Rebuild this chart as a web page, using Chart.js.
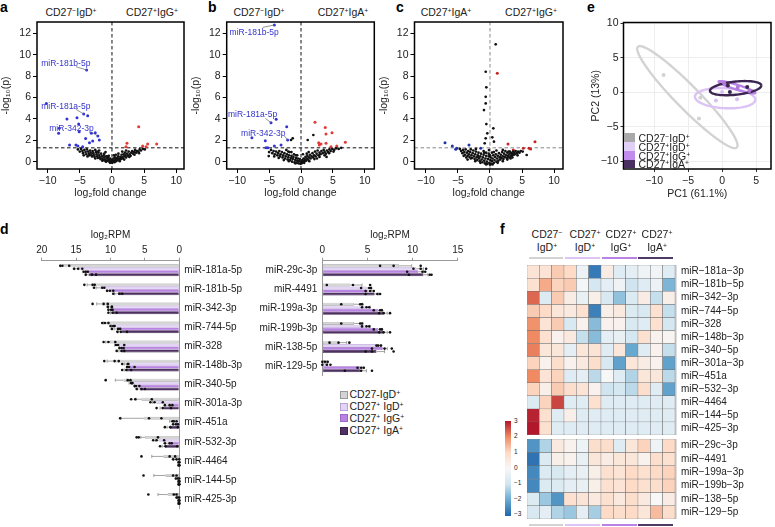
<!DOCTYPE html>
<html lang="en">
<head>
<meta charset="UTF-8">
<title>miRNA profiles of B cell subsets</title>
<script src="https://cdn.jsdelivr.net/npm/chart.js"></script>
<style>
  body { margin: 0; background: #fff; }
  #fig { position: relative; width: 775px; height: 527px; overflow: hidden;
         font-family: "Liberation Sans", Arial, Helvetica, sans-serif; color: #222; }
  #fig canvas { position: absolute; }
  .t { position: absolute; white-space: nowrap; line-height: 1; }
  .c { transform: translateX(-50%); }
  .p { font-weight: bold; font-size: 14px; color: #000; }
  .h { font-size: 10.5px; }
  .sw { position: absolute; }
  sup { font-size: 65%; vertical-align: 0.45em; line-height: 0; }
</style>
</head>
<body>
<div id="fig">
  <!-- panel letters -->
  <div class="t p" style="left:0;top:0">a</div>
  <div class="t p" style="left:208px;top:0">b</div>
  <div class="t p" style="left:396px;top:0">c</div>
  <div class="t p" style="left:587px;top:0">e</div>
  <div class="t p" style="left:0;top:221.5px">d</div>
  <div class="t p" style="left:500px;top:221.5px">f</div>

  <!-- volcano headers -->
  <div class="t h c" style="left:71px;top:6.8px">CD27<sup>−</sup>IgD<sup>+</sup></div>
  <div class="t h c" style="left:152px;top:6.8px">CD27<sup>+</sup>IgG<sup>+</sup></div>
  <div class="t h c" style="left:259px;top:6.8px">CD27<sup>−</sup>IgD<sup>+</sup></div>
  <div class="t h c" style="left:343px;top:6.8px">CD27<sup>+</sup>IgA<sup>+</sup></div>
  <div class="t h c" style="left:446px;top:6.8px">CD27<sup>+</sup>IgA<sup>+</sup></div>
  <div class="t h c" style="left:531px;top:6.8px">CD27<sup>+</sup>IgG<sup>+</sup></div>

  <canvas id="cA" width="190" height="200" style="left:0;top:0"></canvas>
  <canvas id="cB" width="190" height="200" style="left:190px;top:0"></canvas>
  <canvas id="cC" width="190" height="200" style="left:378px;top:0"></canvas>
  <canvas id="cE" width="197" height="200" style="left:578px;top:0"></canvas>

  <!-- PCA legend -->
  <div class="sw" style="left:623.7px;top:133.3px;width:11.6px;height:8.8px;background:#a9a9a9"></div>
  <div class="sw" style="left:623.7px;top:142.1px;width:11.6px;height:8.8px;background:#e1d0f5"></div>
  <div class="sw" style="left:623.7px;top:150.9px;width:11.6px;height:8.8px;background:#c28cec"></div>
  <div class="sw" style="left:623.7px;top:159.7px;width:11.6px;height:8.8px;background:#4b2e60"></div>
  <div class="t h" style="left:638.5px;top:133.2px">CD27<sup>−</sup>IgD<sup>+</sup></div>
  <div class="t h" style="left:638.5px;top:142.2px">CD27<sup>+</sup>IgD<sup>+</sup></div>
  <div class="t h" style="left:638.5px;top:150.9px">CD27<sup>+</sup>IgG<sup>+</sup></div>
  <div class="t h" style="left:638.5px;top:159.2px">CD27<sup>+</sup>IgA<sup>+</sup></div>

  <canvas id="cD1" width="250" height="300" style="left:0;top:215px"></canvas>
  <canvas id="cD2" width="225" height="170" style="left:250px;top:215px"></canvas>

  <!-- d legend -->
  <div class="sw" style="left:340px;top:390.8px;width:6px;height:6px;background:#d4d4d4;border:0.6px solid #999"></div>
  <div class="sw" style="left:340px;top:402.5px;width:6px;height:6px;background:#e3d3f5;border:0.6px solid #b9a3d6"></div>
  <div class="sw" style="left:340px;top:414.2px;width:6px;height:6px;background:#b883e3;border:0.6px solid #9a68c5"></div>
  <div class="sw" style="left:340px;top:426.5px;width:6px;height:6px;background:#4e3063;border:0.6px solid #3a2149"></div>
  <div class="t h" style="left:349.5px;top:389.2px">CD27-IgD<sup>+</sup></div>
  <div class="t h" style="left:349.5px;top:401px">CD27<sup>+</sup> IgD<sup>+</sup></div>
  <div class="t h" style="left:349.5px;top:412.7px">CD27<sup>+</sup> IgG<sup>+</sup></div>
  <div class="t h" style="left:349.5px;top:425px">CD27<sup>+</sup> IgA<sup>+</sup></div>

  <!-- heatmap headers -->
  <div class="t h c" style="left:547px;top:229.4px">CD27<sup>−</sup></div>
  <div class="t h c" style="left:547px;top:241.6px">IgD<sup>+</sup></div>
  <div class="t h c" style="left:585px;top:229.4px">CD27<sup>+</sup></div>
  <div class="t h c" style="left:585px;top:241.6px">IgD<sup>+</sup></div>
  <div class="t h c" style="left:621px;top:229.4px">CD27<sup>+</sup></div>
  <div class="t h c" style="left:621px;top:241.6px">IgG<sup>+</sup></div>
  <div class="t h c" style="left:657px;top:229.4px">CD27<sup>+</sup></div>
  <div class="t h c" style="left:657px;top:241.6px">IgA<sup>+</sup></div>
  <div class="sw" style="left:528.5px;top:256.5px;width:34px;height:2.6px;background:#d3d3d3"></div>
  <div class="sw" style="left:565px;top:256.5px;width:35px;height:2.6px;background:#dcc5f5"></div>
  <div class="sw" style="left:601.7px;top:256.5px;width:35px;height:2.6px;background:#b982e6"></div>
  <div class="sw" style="left:638.3px;top:256.5px;width:35px;height:2.6px;background:#4f3a63"></div>
  <div class="sw" style="left:528.5px;top:523.8px;width:34px;height:2.6px;background:#d3d3d3"></div>
  <div class="sw" style="left:565px;top:523.8px;width:35px;height:2.6px;background:#dcc5f5"></div>
  <div class="sw" style="left:601.7px;top:523.8px;width:35px;height:2.6px;background:#b982e6"></div>
  <div class="sw" style="left:638.3px;top:523.8px;width:35px;height:2.6px;background:#4f3a63"></div>

  <canvas id="cF1" width="248" height="170" style="left:527px;top:265px"></canvas>
  <canvas id="cF2" width="248" height="80" style="left:527px;top:439px"></canvas>

  <!-- colour key -->
  <div class="sw" style="left:505px;top:421px;width:6px;height:95px;background:linear-gradient(to bottom,#b2182b,#ef8a62,#fddbc7,#f7f7f7,#d1e5f0,#67a9cf,#2166ac)"></div>
  <div id="key"></div>
</div>

<script>
// ---------- panel a-c : volcano plots [log2 fold change, -log10 p] ----------
const volA_ns = [[-5.3,1.15],[-5.0,0.95],[-4.8,1.2],[-4.6,1.0],[-4.5,0.8],[-4.3,1.1],[-4.1,0.9],[-4.0,0.7],[-3.9,1.15],[-3.7,0.95],[-3.6,0.75],[-3.5,0.6],[-3.4,1.05],[-3.3,0.85],[-3.2,0.65],[-3.1,0.5],[-3.0,1.0],[-2.9,0.8],[-2.8,0.6],[-2.7,0.45],[-2.6,1.1],[-2.5,0.9],[-2.4,0.7],[-2.3,0.5],[-2.2,0.35],[-2.1,0.85],[-2.0,0.6],[-1.9,0.4],[-1.8,0.25],[-1.7,0.75],[-1.6,0.5],[-1.5,0.3],[-1.4,0.15],[-1.3,0.6],[-1.2,0.4],[-1.1,0.2],[-1.0,0.05],[-0.9,0.5],[-0.8,0.3],[-0.7,0.1],[-0.6,0.4],[-0.5,0.2],[-0.4,0.0],[-0.3,0.3],[-0.2,0.1],[-0.1,-0.05],[0.0,0.2],[0.05,-0.1],[0.15,0.05],[0.25,0.3],[0.35,0.1],[0.45,0.4],[0.55,0.2],[0.65,0.05],[0.75,0.35],[0.85,0.15],[0.95,0.5],[1.05,0.3],[1.15,0.15],[1.3,0.45],[1.4,0.25],[1.5,0.65],[1.6,0.4],[1.7,0.3],[1.8,0.7],[1.9,0.5],[2.0,0.85],[2.1,0.6],[2.2,0.4],[2.35,0.75],[2.5,0.55],[2.6,0.95],[2.75,0.7],[2.9,0.55],[3.0,0.85],[3.15,1.0],[3.3,0.75],[3.45,0.9],[3.6,1.1],[3.75,0.85],[3.9,1.0],[4.1,0.95],[4.3,1.15],[4.5,1.05],[4.8,1.2],[5.1,1.15],[-1.0,0.9],[-0.5,0.55],[0.3,0.6],[1.0,0.75],[-2.0,1.05],[2.2,1.05],
  [-3.8,0.5],[-2.6,0.3],[-1.5,0.1],[-0.9,0.0],[-0.3,-0.1],[0.4,-0.05],[1.2,0.05],[1.9,0.2],[2.7,0.45],[3.5,0.65],[4.2,0.8],[-4.4,0.6],[-1.2,0.75],[0.6,0.65],[1.6,0.95],[-2.3,0.95],[-0.7,0.5]];
const volA_up = [[4.15,3.27],[2.33,1.72],[2.18,1.4],[4.77,1.47],[5.55,1.65],[6.95,1.65],[5.3,1.4]];
const volA_dn = [[-3.94,8.57],[-10.2,5.45],[-4.4,4.46],[-3.78,4.3],[-7.0,3.99],[-5.44,4.11],[-5.18,3.52],[-8.3,2.65],[-8.2,3.12],[-5.1,2.8],[-4.1,2.18],[-3.2,2.65],[-2.6,2.71],[-2.2,2.4],[-1.97,2.03],[-3.0,1.93],[-6.6,1.56],[-5.6,1.56],[-4.56,1.4],[-5.3,1.47],[-3.5,1.78]];

const volB_ns = [[-5.0,0.9],[-4.7,1.1],[-4.5,0.8],[-4.3,1.0],[-4.1,0.7],[-3.9,0.95],[-3.7,0.6],[-3.6,0.8],[-3.4,1.0],[-3.3,0.5],[-3.2,0.7],[-3.0,0.9],[-2.9,0.4],[-2.8,0.6],[-2.6,0.8],[-2.5,0.3],[-2.4,0.5],[-2.3,1.1],[-2.2,0.7],[-2.1,0.2],[-2.0,0.4],[-1.9,0.6],[-1.8,0.9],[-1.7,0.15],[-1.6,0.35],[-1.5,0.55],[-1.4,0.0],[-1.3,0.25],[-1.2,0.45],[-1.1,0.7],[-1.0,-0.05],[-0.9,0.15],[-0.8,0.35],[-0.7,-0.1],[-0.6,0.1],[-0.5,0.3],[-0.4,-0.15],[-0.3,0.05],[-0.2,0.25],[-0.1,-0.2],[0.0,0.0],[0.1,-0.15],[0.2,0.15],[0.3,-0.05],[0.4,0.3],[0.5,0.05],[0.6,0.2],[0.7,0.45],[0.8,0.1],[0.9,0.3],[1.0,0.55],[1.1,0.2],[1.25,0.4],[1.4,0.65],[1.5,0.3],[1.65,0.5],[1.8,0.8],[1.9,0.4],[2.05,0.6],[2.2,0.95],[2.3,0.5],[2.45,0.75],[2.6,1.05],[2.75,0.6],[2.9,0.85],[3.05,0.7],[3.2,1.0],[3.4,0.8],[3.55,1.1],[3.7,0.9],[3.9,0.75],[4.05,1.05],[4.25,0.9],[4.45,1.15],[4.65,1.0],[4.9,1.2],[5.2,1.1],[5.5,1.25],[5.9,1.2],[6.3,1.3],[-0.6,0.6],[0.3,0.7],[1.2,0.9],[-1.5,0.9],[-1.57,2.03],[-1.3,2.19],[1.05,2.03],[1.93,2.5],[-5.06,0.53],
  [-3.5,0.35],[-2.7,0.15],[-1.9,0.05],[-0.9,-0.15],[0.5,-0.1],[1.3,0.05],[2.1,0.25],[2.9,0.45],[3.7,0.6],[4.4,0.8],[5.1,0.95],[-4.2,0.5],[-2.0,0.95],[-0.8,0.6],[0.9,0.75],[2.5,0.3],[4.0,0.45]];
const volB_up = [[2.19,3.68],[3.8,3.21],[4.86,2.71],[3.92,2.59],[2.87,1.56],[2.77,1.78],[3.13,1.65],[3.92,1.72],[4.7,1.4],[5.6,1.47],[6.95,1.81]];
const volB_dn = [[-4.18,12.78],[-3.9,3.96],[-4.7,3.65],[-2.24,3.27],[-7.7,2.24],[-5.6,1.96],[-4.18,1.47],[-5.5,1.31],[-5.2,1.31],[-3.13,1.56],[-2.1,2.03]];

const volC_ns = [[-4.7,1.2],[-4.5,1.0],[-4.3,0.8],[-4.2,1.1],[-4.0,0.9],[-3.9,0.65],[-3.8,1.15],[-3.6,0.85],[-3.5,0.55],[-3.4,1.0],[-3.3,0.7],[-3.2,0.45],[-3.1,0.9],[-3.0,1.15],[-2.9,0.6],[-2.8,0.35],[-2.7,0.8],[-2.6,1.05],[-2.5,0.5],[-2.4,0.25],[-2.3,0.7],[-2.2,0.95],[-2.1,0.4],[-2.0,0.15],[-1.9,0.6],[-1.8,0.85],[-1.7,0.3],[-1.6,0.05],[-1.5,0.5],[-1.4,0.75],[-1.3,0.2],[-1.2,-0.05],[-1.1,0.4],[-1.0,0.65],[-0.9,0.1],[-0.8,-0.15],[-0.7,0.3],[-0.6,0.55],[-0.5,0.0],[-0.4,-0.2],[-0.3,0.25],[-0.2,0.5],[-0.1,-0.1],[0.0,-0.28],[0.05,0.15],[0.1,0.4],[0.2,-0.2],[0.3,0.05],[0.4,0.3],[0.5,0.6],[0.6,-0.1],[0.7,0.15],[0.8,0.45],[0.9,0.7],[1.0,0.0],[1.1,0.3],[1.2,0.55],[1.3,0.1],[1.4,0.8],[1.5,0.4],[1.6,0.2],[1.7,0.65],[1.8,0.35],[1.9,0.9],[2.0,0.5],[2.1,0.25],[2.2,0.75],[2.3,0.45],[2.4,1.0],[2.5,0.6],[2.6,0.35],[2.7,0.85],[2.8,0.55],[2.9,0.4],[3.0,0.7],[3.1,0.95],[3.2,0.5],[3.3,0.8],[3.4,0.6],[3.5,0.75],[3.6,0.95],[3.7,0.65],[3.8,0.85],[3.9,0.7],[4.0,1.0],[4.2,0.8],[4.4,0.95],[4.6,0.85],[4.8,1.0],[5.1,0.95],[-0.6,0.85],[0.3,0.85],[-1.0,1.0],[1.0,1.05],[-0.2,0.75],[0.6,0.9],[-2.2,1.2],[-3.7,0.4],[2.0,1.1],[3.2,0.3],
  [0.89,10.97],[-0.67,8.41],[-0.57,6.95],[-0.67,6.07],[-0.67,5.45],[-0.94,4.83],[-0.57,3.52],[0.52,3.12],[-0.42,2.65],[-0.67,2.19],[0.36,2.28],[-0.83,1.72],[0.62,1.87],[-0.16,1.09],[5.72,0.63],
  [-4.1,0.55],[-3.0,0.3],[-2.3,0.05],[-1.5,-0.1],[-0.6,-0.25],[0.4,-0.25],[1.2,-0.1],[2.0,0.05],[2.7,0.2],[3.5,0.4],[4.3,0.6],[-3.5,0.2],[-1.8,0.45],[0.0,0.6],[1.6,0.45],[2.9,0.95],[-0.9,0.85]];
const volC_up = [[1.14,8.26],[2.81,1.65],[7.02,1.87],[3.64,1.09],[5.2,1.25],[6.08,1.25],[6.34,1.19]];
const volC_dn = [[-7.02,1.78],[-5.88,1.47],[-5.35,1.16],[-5.2,1.25],[-3.28,1.56],[-1.45,1.25]];

const volXTicks = [-10, -5, 0, 5, 10];
const volYTicks = [0, 2, 4, 6, 8, 10, 12];

// ---------- panel e : PCA ----------
const pcaIgDneg = [[-8.6,2.5],[-3.4,-3.8],[-3.2,-0.8]];
const pcaIgDpos = [[-0.9,-1.2],[2.2,-1.0],[0.0,0.05]];
const pcaIgG    = [[0.3,1.3],[2.3,0.7],[4.0,0.2]];
const pcaIgA    = [[0.85,1.0],[1.15,0.05],[3.7,0.75]];
// 95% ellipses: centre, semi-axes, angle (deg)
const ellCx = [-5.1, 0.45, 2.2, 2.0];
const ellCy = [-0.7, -0.85, 0.73, 0.6];
const ellA  = [10.3, 4.45, 2.83, 3.8];
const ellB  = [1.7, 1.45, 0.35, 0.95];
const ellAng = [-45, -3, -17, 6];
const pcaXTicks = [-10, -5, 0, 5];
const pcaYTicks = [-10, -5, 0, 5, 10];

// ---------- panel d : log2 RPM, mean, sd, replicates ----------
const mirDown = ['miR-181a-5p','miR-181b-5p','miR-342-3p','miR-744-5p','miR-328','miR-148b-3p','miR-340-5p','miR-301a-3p','miR-451a','miR-532-3p','miR-4464','miR-144-5p','miR-425-3p'];
const mirUp = ['miR-29c-3p','miR-4491','miR-199a-3p','miR-199b-3p','miR-138-5p','miR-129-5p'];

const downMeanNeg = [17.0, 12.8, 11.3, 10.6, 10.1, 9.6, 8.1, 5.5, 5.2, 5.0, 2.3, 2.0, 1.7];
const downSdNeg   = [0.3, 0.6, 0.7, 0.4, 0.6, 0.9, 1.2, 0.8, 3.3, 0.6, 1.7, 1.7, 1.4];
const downRepNeg  = [[17.3,17.0,16.0],[13.8,12.6,12.3],[12.6,11.0,10.4],[11.2,10.8,10.3],[11.0,10.3,9.3],[10.9,9.4,8.8],[10.7,7.5,7.1],[7.0,6.4,4.0],[8.6,4.4,2.6],[6.2,5.9,3.1],[5.5,1.4,0.6],[5.2,0.9,0.4],[4.5,0.8,0.4]];
const downMeanIgD = [14.8, 11.5, 10.0, 9.6, 8.9, 7.7, 6.9, 3.3, 0.9, 3.0, 0.5, 0.3, 0.2];
const downSdIgD   = [0.4, 0.6, 0.3, 0.3, 0.5, 0.3, 0.4, 0.6, 0.5, 0.5, 0.3, 0.2, 0.2];
const downRepIgD  = [[15.3,14.7,14.1],[12.4,11.2,10.9],[10.4,9.8,9.8],[10.0,9.6,9.4],[9.2,8.9,8.0],[8.3,7.5,7.4],[7.0,6.9,6.8],[4.2,3.6,2.4],[1.0,0.8,0.4],[3.8,3.3,2.2],[0.9,0.4,0.0],[0.5,0.2,0.0],[0.4,0.2,0.0]];
const downMeanIgG = [13.7, 10.1, 10.0, 9.1, 8.4, 7.2, 6.2, 1.6, 0.6, 1.6, 0.1, 0.1, 0.1];
const downSdIgG   = [0.3, 0.4, 0.3, 0.4, 0.3, 0.4, 0.3, 0.5, 0.3, 0.4, 0.1, 0.1, 0.1];
const downRepIgG  = [[13.9,13.6,13.3],[10.5,10.1,9.6],[10.3,9.9,9.7],[9.8,8.9,8.6],[8.7,8.4,8.1],[7.6,7.3,6.5],[6.5,6.3,5.8],[2.1,1.4,1.0],[0.9,0.5,0.2],[2.1,1.4,1.1],[0.1,0.0,0.0],[0.1,0.0,0.0],[0.1,0.0,0.0]];
const downMeanIgA = [13.2, 8.9, 9.7, 8.4, 8.4, 7.7, 5.7, 2.3, 1.4, 2.1, 0.1, 0.1, 0.1];
const downSdIgA   = [0.4, 0.5, 0.3, 0.5, 0.4, 0.3, 0.4, 0.5, 0.4, 0.4, 0.1, 0.1, 0.1];
const downRepIgA  = [[13.6,12.7,12.1],[9.6,8.7,8.3],[10.3,9.7,9.1],[9.0,8.5,7.6],[9.1,8.4,8.0],[8.3,7.7,7.0],[6.2,5.5,5.0],[3.3,2.4,1.2],[2.1,1.3,0.2],[2.8,2.0,0.3],[0.1,0.0,0.0],[0.1,0.0,0.0],[0.1,0.0,0.0]];

const upMeanNeg = [8.5, 3.1, 3.5, 3.5, 1.8, 0.3];
const upSdNeg   = [1.4, 1.3, 1.0, 1.0, 0.9, 0.2];
const upRepNeg  = [[6.4,7.9,10.9],[0.5,3.4,5.3],[2.1,4.2,4.4],[2.1,4.2,4.4],[0.8,1.8,3.0],[0.0,0.3,0.6]];
const upMeanIgD = [10.4, 4.9, 4.8, 4.8, 6.2, 0.4];
const upSdIgD   = [0.8, 0.5, 0.5, 0.5, 0.3, 0.2];
const upRepIgD  = [[10.1,10.9,11.5],[4.3,5.2,5.4],[4.4,4.9,5.2],[4.4,4.9,5.2],[6.0,6.2,6.5],[0.0,0.5,0.9]];
const upMeanIgG = [10.6, 5.1, 6.2, 6.2, 6.7, 4.2];
const upSdIgG   = [0.6, 0.4, 0.4, 0.4, 0.5, 0.3];
const upRepIgG  = [[9.4,11.1,11.4],[4.8,5.3,5.7],[5.7,6.4,6.6],[5.7,6.4,6.6],[5.5,6.9,7.7],[3.9,4.3,4.6]];
const upMeanIgA = [11.2, 5.8, 6.8, 6.8, 6.0, 4.2];
const upSdIgA   = [0.5, 0.4, 0.4, 0.4, 0.9, 0.7];
const upRepIgA  = [[9.6,11.9,12.1],[4.8,6.1,6.4],[6.3,6.8,7.5],[6.3,6.8,7.5],[4.8,5.5,7.9],[2.5,4.3,5.5]];
const rpmTicksL = [0, 5, 10, 15, 20];
const rpmTicksR = [0, 5, 10, 15];

// ---------- panel f : row z-scores, 12 samples (3 per subset) ----------
const hmCols = ['s1','s2','s3','s4','s5','s6','s7','s8','s9','s10','s11','s12'];
const hmRowsTop = ['miR\u2212181a\u22123p','miR\u2212181b\u22125p','miR\u2212342\u22123p','miR\u2212744\u22125p','miR\u2212328','miR\u2212148b\u22123p','miR\u2212340\u22125p','miR\u2212301a\u22123p','miR\u2212451a','miR\u2212532\u22123p','miR\u22124464','miR\u2212144\u22125p','miR\u2212425\u22123p'];
const hmTop = [
  [0.7, 0.7, 1.2, 1.0, -0.3, -2.7, 0.4, -0.6, -0.5, -0.2, -0.15, -0.6],
  [0.8, 1.6, 1.1, 1.2, -0.1, -0.9, -0.5, -0.2, -1.0, -0.6, -0.3, -1.8],
  [2.3, -0.7, 1.2, 0.4, -0.4, 0.3, -0.8, -1.6, -0.7, 0.4, -1.1, 0.3],
  [1.2, 1.0, 0.6, 0.5, 0.8, -2.6, 0.3, 0.5, -0.7, -0.8, 0.8, -1.1],
  [1.9, 0.7, 1.2, -0.8, 0.2, -1.7, 0.2, 0.2, -0.8, -0.6, 0.8, -0.9],
  [2.0, 0.8, 0.2, 0.5, -1.1, -1.7, -0.5, -0.4, -0.9, 0.8, 0.2, 0.1],
  [2.1, 0.6, 0.6, -0.5, 0.6, 0.7, -0.6, 0.6, -2.0, -0.6, 0.2, -1.1],
  [1.1, 0.2, 0.9, 0.2, 0.5, 0.9, -0.8, -2.1, 0.6, 0.4, 0.2, -2.1],
  [2.0, 0.7, 1.1, -0.6, -0.5, -1.2, 0.0, -0.6, -1.3, 0.6, 0.6, -1.2],
  [1.1, 0.3, 1.2, 0.9, 0.7, 0.2, -1.0, -0.9, -1.2, 0.9, -0.6, -2.1],
  [-0.7, 1.1, 2.6, -0.6, -0.6, 0.8, -0.6, -0.6, -0.6, -0.6, -0.6, -0.6],
  [2.9, 0.8, -0.6, 0.3, -0.6, -0.6, -0.6, -0.6, -0.6, -0.6, -0.6, -0.6],
  [3.0, 0.8, -0.6, -0.6, -0.6, -0.6, -0.6, -0.6, -0.6, -0.6, -0.6, -0.6]
];
const hmRowsBottom = ['miR\u221229c\u22123p','miR\u22124491','miR\u2212199a\u22123p','miR\u2212199b\u22123p','miR\u2212138\u22125p','miR\u2212129\u22125p'];
const hmBottom = [
  [-2.3, -1.3, 0.5, 0.2, -0.3, 0.9, 0.9, -0.6, 0.6, 1.1, -0.2, 1.0],
  [-2.8, -0.7, 0.3, 0.2, -0.4, 0.6, 0.4, 0.6, 0.6, 0.2, 0.9, 0.8],
  [-2.5, -0.7, -0.8, -0.5, -0.4, 0.3, 0.8, 0.7, 1.0, 0.8, 1.0, 1.1],
  [-2.5, -0.7, -0.7, -0.5, -0.4, 0.3, 0.8, 0.7, 1.0, 0.8, 0.9, 1.1],
  [-0.7, -1.5, -2.3, 0.8, 0.7, 0.5, 0.8, 0.5, 0.9, 0.5, 0.0, 0.4],
  [-0.8, -0.5, -1.3, -1.5, -0.5, -1.4, 1.0, 0.9, 1.0, 0.6, 1.4, 0.9]
];
const keyTicks = [3, 2, 1, 0, -1, -2, -3];

// ---------- shared style ----------
const FONT = '"Liberation Sans", Arial, Helvetica, sans-serif';
Chart.defaults.font.family = FONT;
Chart.defaults.font.size = 10;
Chart.defaults.color = '#222';
Chart.defaults.animation = false;
Chart.defaults.plugins.legend.display = false;
Chart.defaults.plugins.tooltip.enabled = false;

const subsetFill = ['#d4d4d4', '#e3d3f5', '#b883e3', '#4e3063'];
const subsetLine = ['#9a9a9a', '#b9a3d6', '#9a68c5', '#3a2149'];
const minus = v => String(v).replace('-', '\u2212');
const pts = arr => arr.map(p => ({x: p[0], y: p[1]}));
const fixTicks = list => s => { s.ticks = list.map(v => ({value: v})); };
// fixed axis width, no extra top/bottom room for the labels
const fixWidth = w => s => { s.width = w; s.paddingTop = 0; s.paddingBottom = 0; };

// box around the plotting area
const frame = {
  id: 'frame',
  afterDraw(chart, args, o) {
    const {ctx, chartArea: a} = chart;
    ctx.save();
    ctx.strokeStyle = o.color; ctx.lineWidth = o.width;
    const g = o.outside ? o.width / 2 : 0;
    ctx.strokeRect(a.left - g, a.top - g, a.width + 2 * g, a.height + 2 * g);
    ctx.restore();
  }
};

// dashed reference lines (fold change 0, p = 0.05)
const guides = {
  id: 'guides',
  beforeDatasetsDraw(chart, args, o) {
    const {ctx, chartArea: a, scales: {x, y}} = chart;
    ctx.save();
    ctx.strokeStyle = o.color; ctx.lineWidth = 1; ctx.setLineDash([3.5, 2.5]);
    o.vx.forEach(v => { const p = x.getPixelForValue(v); ctx.beginPath(); ctx.moveTo(p, a.top); ctx.lineTo(p, a.bottom); ctx.stroke(); });
    o.hy.forEach(v => { const p = y.getPixelForValue(v); ctx.beginPath(); ctx.moveTo(a.left, p); ctx.lineTo(a.right, p); ctx.stroke(); });
    ctx.restore();
  }
};

// miRNA name tags with leader lines
const tags = {
  id: 'tags',
  afterDatasetsDraw(chart, args, o) {
    const {ctx, scales: {x, y}} = chart;
    ctx.save();
    ctx.font = '8.5px ' + FONT;
    ctx.textBaseline = 'middle';
    o.items.forEach(t => {
      ctx.strokeStyle = '#666'; ctx.lineWidth = 0.7;
      ctx.beginPath();
      ctx.moveTo(x.getPixelForValue(t.lx), y.getPixelForValue(t.ly));
      ctx.lineTo(x.getPixelForValue(t.px), y.getPixelForValue(t.py));
      ctx.stroke();
      ctx.fillStyle = '#3434cc';
      ctx.fillText(t.t, x.getPixelForValue(t.x), y.getPixelForValue(t.y));
    });
    ctx.restore();
  }
};

function volcano(id, ns, up, dn, c) {
  new Chart(document.getElementById(id), {
    type: 'scatter',
    data: { datasets: [
      { data: pts(ns), backgroundColor: '#111', pointRadius: 1.35 },
      { data: pts(up), backgroundColor: c.red, pointRadius: 1.5 },
      { data: pts(dn), backgroundColor: c.blue, pointRadius: 1.5 }
    ]},
    options: {
      responsive: false,
      layout: { padding: { top: 22, right: c.padR, left: 0, bottom: 0 } },
      elements: { point: { borderWidth: 0, hoverRadius: 0 } },
      scales: {
        x: { type: 'linear', min: c.xmin, max: c.xmax,
             afterBuildTicks: fixTicks(volXTicks), afterFit: s => { s.height = 31; },
             grid: { drawOnChartArea: false, tickLength: 4, tickColor: '#000' }, border: { display: false },
             ticks: { padding: 2, font: { size: 10.5 }, callback: minus },
             title: { display: true, text: 'log\u2082fold change', font: { size: 10.5 }, padding: { top: 0, bottom: 1 } } },
        y: { min: -0.68, max: 13.06,
             afterBuildTicks: fixTicks(volYTicks), afterFit: fixWidth(c.yw),
             grid: { drawOnChartArea: false, tickLength: 4, tickColor: '#000' }, border: { display: false },
             ticks: { padding: 2, font: { size: 10.5 } },
             title: { display: true, text: '-log\u2081\u2080(p)', font: { size: 10.5 }, padding: { top: 0, bottom: 0 } } }
      },
      plugins: {
        guides: { vx: [0], hy: [1.3], color: c.dash },
        tags: { items: c.tags },
        frame: { color: '#000', width: 1.5 }
      }
    },
    plugins: [guides, tags, frame]
  });
}

volcano('cA', volA_ns, volA_up, volA_dn, {
  xmin: -11.66, xmax: 11.2, yw: 37, padR: 6, red: '#e23a36', blue: '#3434d6', dash: '#111',
  tags: [
    { t: 'miR-181b-5p', x: -11.0, y: 9.2, lx: -5.6, ly: 8.88, px: -3.94, py: 8.57 },
    { t: 'miR-181a-5p', x: -11.0, y: 5.14, lx: -5.6, ly: 4.9, px: -4.4, py: 4.46 },
    { t: 'miR-342-3p', x: -9.75, y: 3.06, lx: -3.27, ly: 2.8, px: -2.2, py: 2.4 }
  ]
});
volcano('cB', volB_ns, volB_up, volB_dn, {
  xmin: -11.65, xmax: 11.49, yw: 36.7, padR: 5.7, red: '#e23a36', blue: '#3434d6', dash: '#111',
  tags: [
    { t: 'miR-181b-5p', x: -11.2, y: 12.1, lx: -6.0, ly: 12.56, px: -4.18, py: 12.78 },
    { t: 'miR-181a-5p', x: -11.45, y: 4.43, lx: -5.6, ly: 4.06, px: -4.7, py: 3.65 },
    { t: 'miR-342-3p', x: -9.4, y: 2.65, lx: -2.6, ly: 2.4, px: -2.1, py: 2.03 }
  ]
});
volcano('cC', volC_ns, volC_up, volC_dn, {
  xmin: -11.78, xmax: 11.39, yw: 36.5, padR: 5, red: '#c42525', blue: '#2233a8', dash: '#888',
  tags: []
});

// ---------- PCA ----------
const ellipses = {
  id: 'ellipses',
  beforeDatasetsDraw(chart, args, o) {
    const {ctx, scales: {x, y}} = chart;
    ctx.save();
    ellCx.forEach((cx, i) => {
      const r = ellAng[i] * Math.PI / 180, cs = Math.cos(r), sn = Math.sin(r);
      ctx.beginPath();
      for (let k = 0; k <= 90; k++) {
        const t = k / 90 * 2 * Math.PI;
        const u = ellA[i] * Math.cos(t), w = ellB[i] * Math.sin(t);
        const px = x.getPixelForValue(cx + u * cs - w * sn);
        const py = y.getPixelForValue(ellCy[i] + u * sn + w * cs);
        if (k) ctx.lineTo(px, py); else ctx.moveTo(px, py);
      }
      ctx.strokeStyle = o.colors[i]; ctx.lineWidth = 2.4;
      ctx.stroke();
    });
    ctx.restore();
  }
};

new Chart(document.getElementById('cE'), {
  type: 'scatter',
  data: { datasets: [
    { data: pts(pcaIgDneg), backgroundColor: '#d2d2d2' },
    { data: pts(pcaIgDpos), backgroundColor: '#d6c0f0' },
    { data: pts(pcaIgG), backgroundColor: '#b27ad8' },
    { data: pts(pcaIgA), backgroundColor: '#3a2449' }
  ]},
  options: {
    responsive: false,
    layout: { padding: { top: 22.5, right: 4, left: 0, bottom: 0 } },
    elements: { point: { radius: 2, borderWidth: 0, hoverRadius: 0 } },
    scales: {
      x: { min: -14.5, max: 7.2, afterBuildTicks: fixTicks(pcaXTicks), afterFit: s => { s.height = 31; },
           grid: { color: '#ededed', tickColor: '#333', tickLength: 3 }, border: { display: false },
           ticks: { padding: 3, font: { size: 10.5 }, callback: minus },
           title: { display: true, text: 'PC1 (61.1%)', font: { size: 10.5 }, padding: { top: 0, bottom: 0 } } },
      y: { min: -11.1, max: 10.1, afterBuildTicks: fixTicks(pcaYTicks), afterFit: fixWidth(45.5),
           grid: { color: '#ededed', tickColor: '#333', tickLength: 3 }, border: { display: false },
           ticks: { padding: 2, font: { size: 10.5 }, callback: minus },
           title: { display: true, text: 'PC2 (13%)', font: { size: 10.5 }, padding: { top: 11.7, bottom: 0 } } }
    },
    plugins: {
      ellipses: { colors: ['#d3d3d3', '#dcc3f5', '#b782e3', '#3d2551'] },
      frame: { color: '#000', width: 1.5 }
    }
  },
  plugins: [ellipses, frame]
});

// ---------- bar charts with sd whiskers and replicate dots ----------
const whiskers = {
  id: 'whiskers',
  afterDatasetsDraw(chart, args, o) {
    const {ctx, scales: {x}} = chart;
    ctx.save();
    chart.data.datasets.forEach((ds, i) => {
      chart.getDatasetMeta(i).data.forEach((bar, j) => {
        const m = ds.data[j];
        const x0 = x.getPixelForValue(m), x1 = x.getPixelForValue(m + o.sd[i][j]);
        ctx.strokeStyle = '#8c8c8c'; ctx.lineWidth = 0.8;
        ctx.beginPath();
        ctx.moveTo(x0, bar.y); ctx.lineTo(x1, bar.y);
        ctx.moveTo(x1, bar.y - 1.6); ctx.lineTo(x1, bar.y + 1.6);
        ctx.stroke();
      });
    });
    chart.data.datasets.forEach((ds, i) => {
      chart.getDatasetMeta(i).data.forEach((bar, j) => {
        ctx.fillStyle = '#111';
        o.reps[i][j].forEach(v => {
          ctx.beginPath(); ctx.arc(x.getPixelForValue(v), bar.y, 1.3, 0, 2 * Math.PI); ctx.fill();
        });
      });
    });
    ctx.restore();
  }
};

function bars(id, labels, means, sds, reps, c) {
  new Chart(document.getElementById(id), {
    type: 'bar',
    data: { labels, datasets: means.map((m, i) => ({
      data: m, backgroundColor: subsetFill[i], borderColor: subsetLine[i], borderWidth: 0.6,
      borderSkipped: false, categoryPercentage: 0.62, barPercentage: 1 })) },
    options: {
      indexAxis: 'y', responsive: false,
      layout: { padding: c.pad },
      scales: {
        x: { position: 'top', min: 0, max: c.max, reverse: c.rev,
             afterBuildTicks: fixTicks(c.ticks), afterFit: s => { s.height = 45.7; },
             grid: { drawOnChartArea: false, tickLength: 3, tickColor: '#999' }, border: { color: '#999', width: 1 },
             ticks: { padding: 1 },
             title: { display: true, text: 'log\u2082RPM', padding: { top: 14, bottom: 0 } } },
        y: { position: c.ypos, afterFit: fixWidth(c.yw),
             grid: { display: false, drawTicks: false }, border: { color: '#999', width: 1 },
             ticks: { padding: 5, autoSkip: false } }
      },
      plugins: { whiskers: { sd: sds, reps } }
    },
    plugins: [whiskers]
  });
}

bars('cD1', mirDown,
  [downMeanNeg, downMeanIgD, downMeanIgG, downMeanIgA],
  [downSdNeg, downSdIgD, downSdIgG, downSdIgA],
  [downRepNeg, downRepIgD, downRepIgG, downRepIgA],
  { max: 20, rev: true, ticks: rpmTicksL, ypos: 'right', yw: 70.7, pad: { left: 41.7, right: 0, top: 0, bottom: 6.5 } });

bars('cD2', mirUp,
  [upMeanNeg, upMeanIgD, upMeanIgG, upMeanIgA],
  [upSdNeg, upSdIgD, upSdIgG, upSdIgA],
  [upRepNeg, upRepIgD, upRepIgG, upRepIgA],
  { max: 15, rev: false, ticks: rpmTicksR, ypos: 'left', yw: 72.3, pad: { left: 0, right: 17.3, top: 0, bottom: 9.1 } });

// ---------- heatmap ----------
const rdbuStops = [[-3,[33,102,172]],[-2,[103,169,207]],[-1,[209,229,240]],[0,[247,247,247]],[1,[253,219,199]],[2,[239,138,98]],[3,[178,24,43]]];
function rdbu(v) {
  v = Math.max(-3, Math.min(3, v));
  for (let k = 0; k < rdbuStops.length - 1; k++) {
    const [a, ca] = rdbuStops[k], [b, cb] = rdbuStops[k + 1];
    if (v <= b) {
      const f = (v - a) / (b - a);
      return 'rgb(' + ca.map((q, n) => Math.round(q + f * (cb[n] - q))).join(',') + ')';
    }
  }
}

function heat(id, rows, z) {
  new Chart(document.getElementById(id), {
    type: 'bar',
    data: { labels: hmCols, datasets: z.map((r, i) => ({
      label: rows[i], data: r.map(() => 1), backgroundColor: r.map(rdbu),
      borderColor: '#6e6e6e', borderWidth: 0.5, borderSkipped: false,
      barPercentage: 1, categoryPercentage: 1, yAxisID: 'y' })) },
    options: {
      responsive: false,
      layout: { padding: 0 },
      scales: {
        x: { display: false, stacked: true },
        y: { display: false, stacked: true, min: 0, max: rows.length, reverse: true },
        y2: { type: 'category', labels: rows, position: 'right', offset: true,
              afterFit: fixWidth(100),
              grid: { display: false, drawTicks: false }, border: { display: false },
              ticks: { padding: 6, autoSkip: false, font: { size: 10 } } }
      },
      plugins: { frame: { color: '#bdbdbd', width: 1.5, outside: true } }
    },
    plugins: [frame]
  });
}
heat('cF1', hmRowsTop, hmTop);
heat('cF2', hmRowsBottom, hmBottom);

// colour key labels
const key = document.getElementById('key');
keyTicks.forEach(v => {
  const d = document.createElement('div');
  d.className = 't';
  d.style.cssText = 'left:514px;font-size:6.5px;top:' + (421 + (3 - v) * 15.6 - 3.2) + 'px';
  d.textContent = minus(v);
  key.appendChild(d);
});
</script>
</body>
</html>
